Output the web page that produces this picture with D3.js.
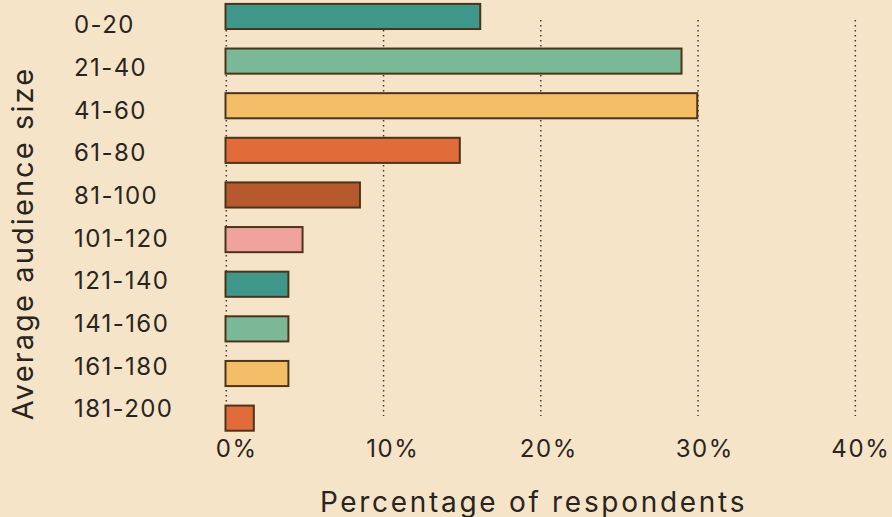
<!DOCTYPE html>
<html>
<head>
<meta charset="utf-8">
<script src="https://cdn.jsdelivr.net/npm/d3@7"></script>
<style>
  html, body { margin: 0; padding: 0; background: #f5e4c8; }
  svg { display: block; }
  text { font-family: Inter, Lato, sans-serif; fill: #2a2421; }
</style>
</head>
<body>
<svg id="chart" width="892" height="517"></svg>
<script>
// Audience size buckets and share of respondents (%)
const categories = ["0-20", "21-40", "41-60", "61-80", "81-100", "101-120", "121-140", "141-160", "161-180", "181-200"];
const values = [16.2, 29, 30, 14.9, 8.55, 4.9, 4, 4, 4, 1.8];
const barColors = ["#3f978a", "#7ab898", "#f4bd68", "#e06c3a", "#b65a2e", "#f0a29c", "#3f978a", "#7ab898", "#f4bd68", "#e06c3a"];
const ticks = [0, 10, 20, 30, 40];

const W = 892, H = 517;
const svg = d3.select("#chart");
svg.append("rect").attr("width", W).attr("height", H).attr("fill", "#f5e4c8");

const x = d3.scaleLinear().domain([0, 40]).range([225.5, 854.5]);
const y = d3.scaleBand().domain(categories).range([3.9, 430.7]).paddingInner(0.437).paddingOuter(0);
// tick labels sit slightly right of their gridlines
const xLabel = d3.scaleLinear().domain([0, 40]).range([236, 860]);
const yLabel = d3.scalePoint().domain(categories).range([33.3, 417.3]);

// dotted gridlines
svg.append("g").selectAll("line").data(ticks).join("line")
  .attr("x1", d => x(d) + 0.8).attr("x2", d => x(d) + 0.8)
  .attr("y1", 20).attr("y2", 416)
  .attr("stroke", "#4a3a2c")
  .attr("stroke-width", 1.5)
  .attr("stroke-dasharray", "1.5,3.5");

// bars
svg.append("g").selectAll("rect").data(categories).join("rect")
  .attr("x", x(0))
  .attr("y", d => y(d))
  .attr("width", (d, i) => x(values[i]) - x(0))
  .attr("height", y.bandwidth())
  .attr("fill", (d, i) => barColors[i])
  .attr("stroke", "#4b3419")
  .attr("stroke-width", 2);

// category labels
svg.append("g").selectAll("text").data(categories).join("text")
  .attr("x", 74)
  .attr("y", d => yLabel(d))
  .attr("font-size", 24)
  .attr("letter-spacing", 1.4)
  .text(d => d);

// x tick labels
svg.append("g").selectAll("text").data(ticks).join("text")
  .attr("x", d => xLabel(d) + 0.8)
  .attr("y", 457)
  .attr("text-anchor", "middle")
  .attr("font-size", 24)
  .attr("letter-spacing", 1.6)
  .text(d => d + "%");

// axis titles
svg.append("text")
  .attr("x", 533.5).attr("y", 511.5)
  .attr("text-anchor", "middle")
  .attr("font-size", 28)
  .attr("letter-spacing", 2.7)
  .text("Percentage of respondents");

svg.append("text")
  .attr("transform", "translate(33,243.5) rotate(-90)")
  .attr("text-anchor", "middle")
  .attr("font-size", 29)
  .attr("letter-spacing", 2.1)
  .text("Average audience size");
</script>
</body>
</html>
